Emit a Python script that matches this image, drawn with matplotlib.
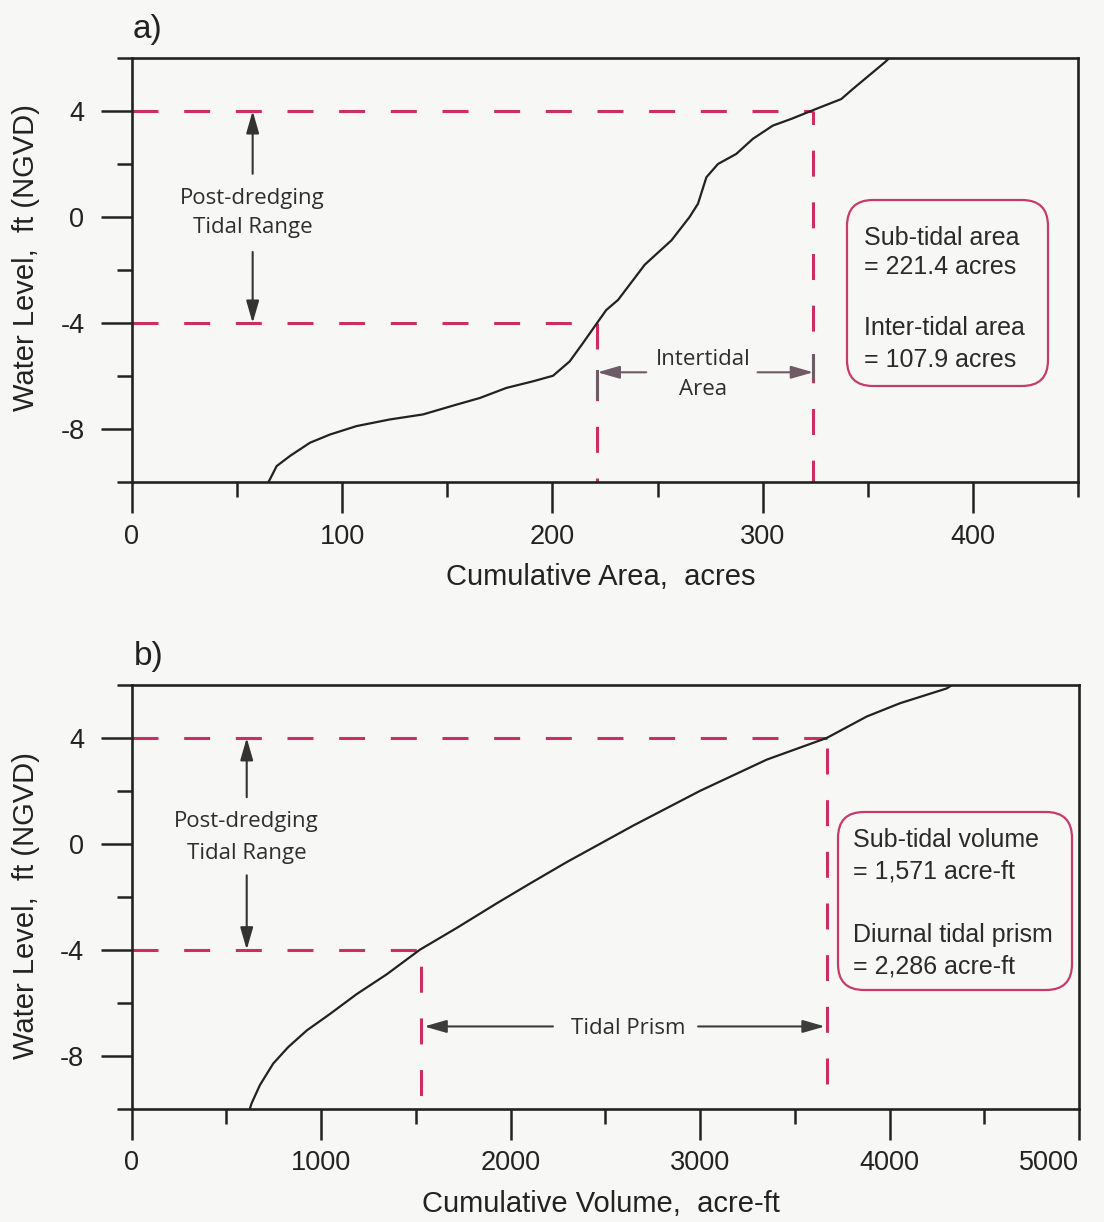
import matplotlib
matplotlib.use('Agg')
import matplotlib.pyplot as plt
from matplotlib.ticker import MultipleLocator
from matplotlib.patches import FancyBboxPatch

plt.rcParams['font.family'] = ['Liberation Sans', 'DejaVu Sans']
plt.rcParams['axes.unicode_minus'] = False
plt.rcParams['lines.scale_dashes'] = False

# stage-area curve (acres vs ft NGVD)
area_x = [65.0, 65.7, 68.9, 75.2, 84.7, 94.2, 106.9, 122.7, 138.5, 154.4, 165.5, 178.1,
          190.8, 200.3, 208.2, 214.5, 221.4, 225.6, 231.2, 243.9, 256.6, 265.2, 269.2,
          273.2, 278.7, 287.4, 295.3, 304.8, 313.5, 325.4, 337.3, 342.8, 357.9, 360.2]
area_y = [-10.0, -9.9, -9.4, -9.02, -8.52, -8.21, -7.89, -7.64, -7.45, -7.08, -6.83, -6.45,
          -6.2, -5.99, -5.45, -4.76, -3.98, -3.51, -3.13, -1.8, -0.88, 0.0, 0.5,
          1.5, 2.0, 2.38, 2.95, 3.45, 3.70, 4.08, 4.45, 4.83, 5.83, 6.0]

# stage-volume curve (acre-ft vs ft NGVD)
vol_x = [625, 634, 678, 748, 827, 925, 1047, 1188, 1347, 1522, 1716, 1927, 2103,
         2297, 2648, 3000, 3352, 3669, 3880, 4055, 4302, 4330]
vol_y = [-10.0, -9.80, -9.11, -8.30, -7.68, -7.05, -6.43, -5.68, -4.93, -4.0, -3.18, -2.25, -1.5,
         -0.69, 0.69, 2.0, 3.18, 4.0, 4.81, 5.31, 5.87, 6.0]

high_tide = 4.0
low_tide = -4.0
area_lo, area_hi = 221.4, 324.0
vol_lo, vol_hi = 1530, 3669

box_a = ['Sub-tidal area', '= 221.4 acres', 'Inter-tidal area', '= 107.9 acres']
box_b = ['Sub-tidal volume', '= 1,571 acre-ft', 'Diurnal tidal prism', '= 2,286 acre-ft']

red = '#cc2d64'
ink = '#222222'
note = '#2e2e2e'
note_font = ['Open Sans', 'DejaVu Sans']
dash = (18.7, 18.5)

W, H = 1104, 1222
fig = plt.figure(figsize=(W / 100, H / 100), dpi=100, facecolor='#f7f7f6')


def px(x, y):
    return x / W, 1 - y / H


def setup(ax, xmax, xmaj, xmin):
    ax.set_facecolor('#f7f7f6')
    ax.set_xlim(0, xmax)
    ax.set_ylim(-10, 6)
    ax.xaxis.set_major_locator(MultipleLocator(xmaj))
    ax.xaxis.set_minor_locator(MultipleLocator(xmin))
    ax.yaxis.set_major_locator(MultipleLocator(4))
    ax.yaxis.set_minor_locator(MultipleLocator(2))
    ax.tick_params(which='major', length=22, width=1.8, color=ink, labelsize=19.5,
                   labelcolor=ink, direction='out')
    ax.tick_params(which='minor', length=11, width=1.8, color=ink, direction='out')
    ax.tick_params(axis='x', which='major', pad=8)
    ax.tick_params(axis='y', which='major', pad=12)
    for s in ax.spines.values():
        s.set_linewidth(1.9)
        s.set_color(ink)


def dashed(ax, x, y, off=0):
    ax.plot(x, y, color=red, lw=2.2, ls=(off, dash), solid_capstyle='butt',
            dash_capstyle='butt', zorder=2)


def arrow(ax, tail, head, color):
    ax.annotate('', xy=head, xytext=tail,
                arrowprops=dict(arrowstyle='-|>,head_length=0.45,head_width=0.13',
                                mutation_scale=30, color=color, lw=1.5,
                                shrinkA=0, shrinkB=0), zorder=3)


def note_text(ax, x, y, s):
    ax.text(x, y, s, ha='center', va='baseline', fontsize=16, color=note,
            family=note_font, zorder=4)


def info_box(x0, y0, x1, y1, lines, tx, baselines):
    box = FancyBboxPatch((x0 / 100, (H - y1) / 100), (x1 - x0) / 100, (y1 - y0) / 100,
                         boxstyle='round,pad=0,rounding_size=0.26',
                         transform=fig.dpi_scale_trans, facecolor='none',
                         edgecolor='#c63a6c', lw=1.6, zorder=5)
    fig.patches.append(box)
    for s, b in zip(lines, baselines):
        fig.text(*px(tx, b), s, fontsize=18, color='#2a2a2a', va='baseline', ha='left')


# ---- panel a ----
ax1 = fig.add_axes([131.7 / W, 1 - 482 / H, 946.6 / W, 424 / H])
setup(ax1, 450, 100, 50)
ax1.plot(area_x, area_y, color=ink, lw=1.6, zorder=3)
dashed(ax1, [0, area_hi], [high_tide, high_tide])
dashed(ax1, [0, area_lo], [low_tide, low_tide])
dashed(ax1, [area_lo, area_lo], [low_tide, -10])
dashed(ax1, [area_hi, area_hi], [high_tide, -10], off=9)
arrow(ax1, (57.5, 1.63), (57.5, high_tide), '#333333')
arrow(ax1, (57.5, -1.32), (57.5, low_tide), '#333333')
note_text(ax1, 57.5, 0.50, 'Post-dredging')
note_text(ax1, 57.5, -0.62, 'Tidal Range')
arrow(ax1, (244.6, -5.86), (area_lo, -5.86), '#6e5b66')
arrow(ax1, (297.5, -5.86), (area_hi, -5.86), '#6e5b66')
ax1.plot([area_lo, area_lo], [-5.8, -6.8], color='#6e5b66', lw=2.2, zorder=3)
ax1.plot([area_hi, area_hi], [-5.2, -6.1], color='#6e5b66', lw=2.2, zorder=3)
note_text(ax1, 271.5, -5.58, 'Intertidal')
note_text(ax1, 271.5, -6.70, 'Area')
ax1.set_xlabel('Cumulative Area,  acres', fontsize=21, color=ink)
ax1.set_ylabel('Water Level,  ft (NGVD)', fontsize=21, color=ink)
ax1.xaxis.set_label_coords(0.495, -0.19)
ax1.yaxis.set_label_coords(-0.097, 0.53)
fig.text(*px(133, 38), 'a)', fontsize=24, color=ink, va='baseline')
info_box(847, 200, 1048, 386, box_a, 864, [245, 274.5, 335, 366.7])

# ---- panel b ----
ax2 = fig.add_axes([131.5 / W, 1 - 1108.5 / H, 947.5 / W, 423.5 / H])
setup(ax2, 5000, 1000, 500)
ax2.plot(vol_x, vol_y, color=ink, lw=1.6, zorder=3)
dashed(ax2, [0, vol_hi], [high_tide, high_tide])
dashed(ax2, [0, vol_lo], [low_tide, low_tide])
dashed(ax2, [vol_lo, vol_lo], [low_tide, -10], off=25.5)
dashed(ax2, [vol_hi, vol_hi], [high_tide, -10], off=30)
arrow(ax2, (608, 1.76), (608, high_tide), '#333333')
arrow(ax2, (608, -1.19), (608, low_tide), '#333333')
note_text(ax2, 608, 0.63, 'Post-dredging')
note_text(ax2, 608, -0.56, 'Tidal Range')
arrow(ax2, (2224, -6.9), (vol_lo + 15, -6.9), '#3c3c3c')
arrow(ax2, (2990, -6.9), (vol_hi - 10, -6.9), '#3c3c3c')
note_text(ax2, 2622, -7.18, 'Tidal Prism')
ax2.set_xlabel('Cumulative Volume,  acre-ft', fontsize=21, color=ink)
ax2.set_ylabel('Water Level,  ft (NGVD)', fontsize=21, color=ink)
ax2.xaxis.set_label_coords(0.495, -0.192)
ax2.yaxis.set_label_coords(-0.097, 0.48)
fig.text(*px(134, 665), 'b)', fontsize=24, color=ink, va='baseline')
info_box(838, 812, 1072, 990, box_b, 853, [846.7, 878.3, 941.7, 973.3])

# keep the last x tick label inside the canvas
fig.canvas.draw()
for lab in ax2.get_xticklabels():
    if lab.get_text() == '5000':
        lab.set_ha('right')
        lab.set_position((5000, 0))

fig.savefig('out.png', dpi=100, facecolor=fig.get_facecolor())
